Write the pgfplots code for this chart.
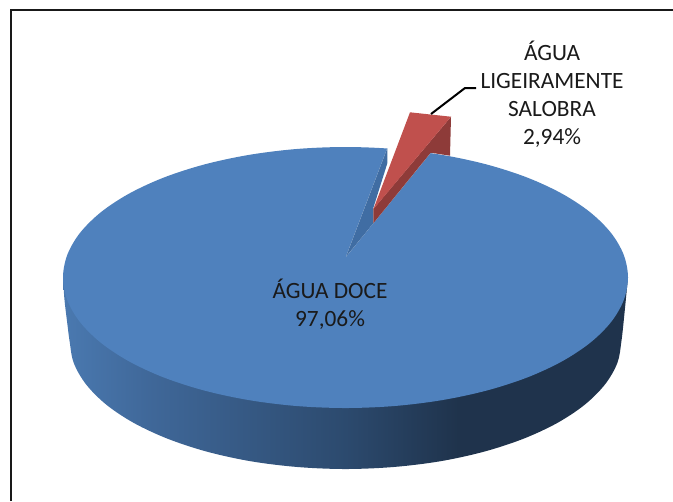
\documentclass[border=0pt]{standalone}
\usepackage{pgfplots}
\pgfplotsset{compat=1.18}
\usepackage{fontspec}
\setmainfont{Carlito}
\definecolor{topblue}{HTML}{4F81BD}
\definecolor{wedgeblue}{HTML}{406DA3}
\definecolor{topred}{HTML}{C0504D}
\definecolor{darkred}{HTML}{8E3B39}
\definecolor{txt}{HTML}{1A1A1A}
\definecolor{w1}{HTML}{4A79B0}
\definecolor{w2}{HTML}{3F6798}
\definecolor{w3}{HTML}{2C4A6E}
\definecolor{w4}{HTML}{1F334C}
\pgfdeclarehorizontalshading{wall}{100bp}{color(0bp)=(w1); color(25bp)=(w1); color(33bp)=(w2); color(50bp)=(w3); color(60bp)=(w4); color(100bp)=(w4)}
\begin{document}
\begin{tikzpicture}
\path[use as bounding box] (0,0) rectangle (504.75pt,375.75pt);
\begin{axis}[
  at={(0,0)}, anchor=south west,
  width=504.75pt, height=375.75pt, scale only axis,
  xmin=0, xmax=673, ymin=0, ymax=501, y dir=reverse,
  axis lines=none, clip=true,
  every axis plot/.append style={no markers, draw=none},
]
% side wall (shaded silhouette, hidden above by the top face)
\addplot[smooth, tension=0.55, shading=wall] coordinates {
 (63,277) (64.5,300) (67.5,325) (69.5,340.5) (73.7,362.8) (86.1,384.4) (106.5,404.8) (134.1,423.1) (168.1,438.9) (207.5,451.8) (251.1,461.3) (297.6,467)
 (345.5,469) (393.4,467) (439.9,461.3) (483.5,451.8) (523,438.9) (557,423.1) (584.6,404.8) (605,384.4) (617.4,362.8) (621.5,340.5)
 (624.5,313) (628,277)} --cycle;
% top face, 97,06 %
\addplot[smooth cycle, tension=0.55, fill=topblue] coordinates {
 (345.5,147) (296.5,149) (248.9,154.9) (204.2,164.5) (163.9,177.5) (129.1,193.6) (100.9,212.2) (80,232.9) (67.3,254.8)
 (63,277.5) (67.3,300.2) (80,322.1) (100.9,342.8) (129.1,361.4) (163.9,377.5) (204.2,390.5) (248.9,400.1) (296.5,406)
 (345.5,408) (394.5,406) (442.1,400.1) (486.8,390.5) (527.1,377.5) (561.9,361.4) (590.1,342.8) (611,322.1) (623.7,300.2)
 (628,277.5) (623.7,254.8) (611,232.9) (590.1,212.2) (561.9,193.6) (527.1,177.5) (486.8,164.5) (442.1,154.9) (394.5,149)};
% gap left by the pulled-out slice
\addplot[fill=white] coordinates {(387.3,140) (387.3,148.3) (346,256.7) (430.7,152.7) (430.7,140)} --cycle;
% inner wall of the large slice
\addplot[fill=wedgeblue] coordinates {(387.3,148.3) (387.3,163.3) (373.3,208) (373.3,223.3) (346,256.7)} --cycle;
% small slice, 2,94 %: inner wall, then top
\addplot[fill=darkred] coordinates {(451,116.7) (450,155.7) (430.7,152.7) (373.3,223.3) (373.3,209)} --cycle;
\addplot[fill=topred] coordinates {(410,112.3) (451,116.7) (373.3,209.3)} --cycle;
% leader line
\addplot[draw=black, line width=1.5pt] coordinates {(431,114) (465,88) (476,88)};
% frame
\addplot[draw=black!90, line width=1.5pt] coordinates {(11,501) (11,10) (673,10)};
\node[txt, align=center, font=\fontsize{17.5pt}{21pt}\selectfont] at (axis cs:330,304) {ÁGUA DOCE\\97,06\%};
\node[txt, align=center, font=\fontsize{17.5pt}{21pt}\selectfont] at (axis cs:552,94.5) {ÁGUA\\LIGEIRAMENTE\\SALOBRA\\2,94\%};
\end{axis}
\end{tikzpicture}
\end{document}
